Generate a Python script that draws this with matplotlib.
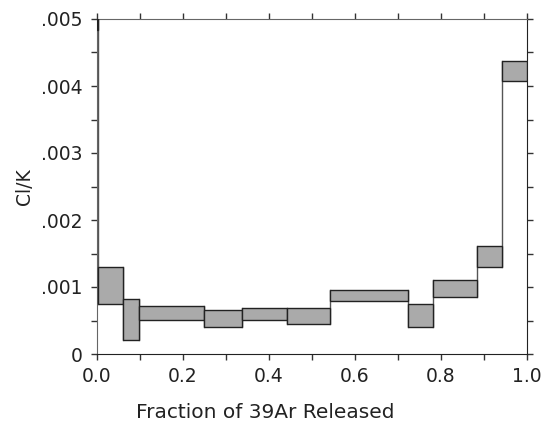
import matplotlib
matplotlib.use("Agg")
import matplotlib.pyplot as plt
from matplotlib.patches import Rectangle
from matplotlib.ticker import FixedLocator, MultipleLocator

# step boundaries (cumulative fraction of 39Ar released)
frac_edges = [0.0, 0.003, 0.061, 0.098, 0.249, 0.338, 0.441,
              0.542, 0.723, 0.782, 0.883, 0.943, 1.0]
# Cl/K box extents per step
clk_low = [0.00483, 0.00075, 0.000204, 0.000512, 0.000408, 0.000512,
           0.000443, 0.00079, 0.000408, 0.00085, 0.0013, 0.00408]
clk_high = [0.0060, 0.0013, 0.00082, 0.000716, 0.000652, 0.000682,
            0.000682, 0.000955, 0.00075, 0.0011, 0.00161, 0.00438]

yticks = [0, 0.001, 0.002, 0.003, 0.004, 0.005]
ytick_labels = ["0", ".001", ".002", ".003", ".004", ".005"]
xticks = [0.0, 0.2, 0.4, 0.6, 0.8, 1.0]
xtick_labels = ["0.0", "0.2", "0.4", "0.6", "0.8", "1.0"]

plt.rcParams["font.family"] = ["DejaVu Sans"]

fig = plt.figure(figsize=(5.52, 4.26), dpi=100)
ax = fig.add_axes([97 / 552, 72 / 426, 430 / 552, 335 / 426])

# vertical connectors between neighbouring steps
for i in range(1, len(clk_low)):
    lo = min(clk_low[i - 1], clk_low[i])
    hi = max(clk_high[i - 1], clk_high[i])
    ax.plot([frac_edges[i], frac_edges[i]], [lo, hi], color="#555555",
            lw=1.0, zorder=2)

for i in range(len(clk_low)):
    x0, x1 = frac_edges[i], frac_edges[i + 1]
    fc = "#222222" if i == 0 else "#aaaaaa"
    ax.add_patch(Rectangle((x0, clk_low[i]), x1 - x0, clk_high[i] - clk_low[i],
                           facecolor=fc, edgecolor="#222222",
                           lw=1.0, zorder=3))

ax.set_xlim(0, 1.0)
ax.set_ylim(0, 0.005)

ax.xaxis.set_major_locator(FixedLocator(xticks))
ax.set_xticklabels(xtick_labels)
ax.xaxis.set_minor_locator(MultipleLocator(0.1))
ax.yaxis.set_major_locator(FixedLocator(yticks))
ax.set_yticklabels(ytick_labels)
ax.yaxis.set_minor_locator(MultipleLocator(0.0005))

ax.tick_params(which="both", direction="out", length=4.5, width=1,
               color="#333333", top=True, right=True, labelsize=13.5,
               labelcolor="#222222")
ax.tick_params(axis="x", which="major", pad=5)
ax.tick_params(axis="y", which="major", pad=6)

for side in ["left", "top"]:
    ax.spines[side].set_color("#666666")
for side in ["right", "bottom"]:
    ax.spines[side].set_color("#222222")

ax.set_ylabel("Cl/K", fontsize=13.5, labelpad=5, color="#222222")
fig.text(265 / 552, 1 - 413 / 426, "Fraction of 39Ar Released",
         fontsize=14.5, ha="center", va="center", color="#222222")

fig.savefig("out.png", dpi=100)
